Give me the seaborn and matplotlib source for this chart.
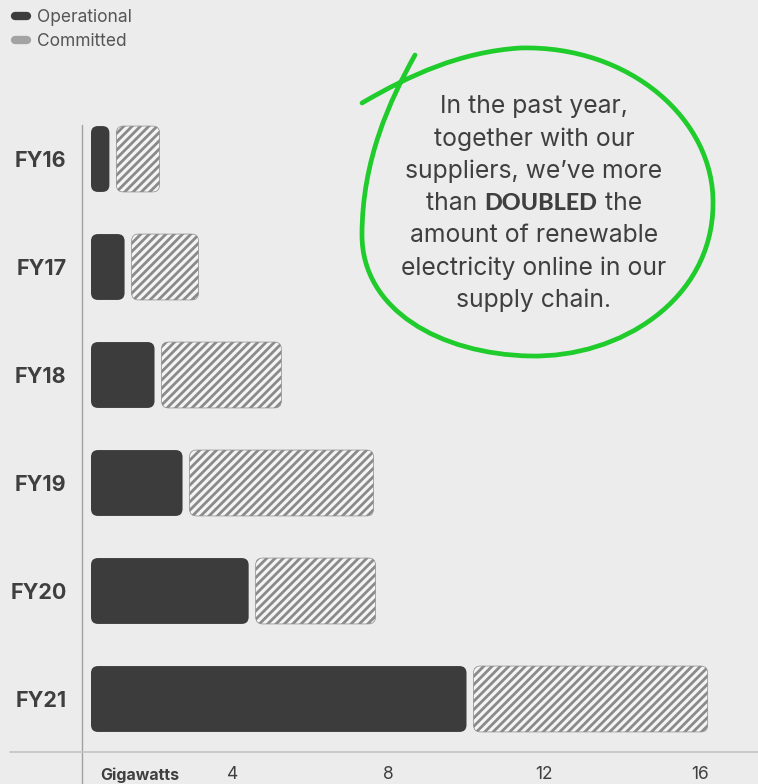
import numpy as np
import pandas as pd
import seaborn as sns
import matplotlib.pyplot as plt
from matplotlib.patches import FancyBboxPatch
from matplotlib.lines import Line2D
from matplotlib.path import Path
from matplotlib.patches import PathPatch

# data (gigawatts)
years = ["FY16", "FY17", "FY18", "FY19", "FY20", "FY21"]
operational = [0.82, 1.21, 1.98, 2.70, 4.40, 10.0]
total_committed = [2.11, 3.11, 5.24, 7.61, 7.66, 16.2]
xticks = [4, 8, 12, 16]

BG = "#ececec"
DARK = "#3c3c3c"
HATCH_GRAY = "#8a8a8a"
GREEN = "#1fcc2c"
TXT = "#3f3f3f"

sns.set_theme(style="white", rc={"figure.facecolor": BG, "axes.facecolor": BG,
                                 "hatch.linewidth": 2.0})
plt.rcParams["font.family"] = ["Inter", "DejaVu Sans"]

W, H = 758, 784
fig = plt.figure(figsize=(W / 100, H / 100), dpi=100)
# axes: left edge is the vertical rule, bottom the horizontal rule
ax = fig.add_axes([82 / W, 1 - 752 / H, 1 - 82 / W, (752 - 125) / H])

df = pd.DataFrame({"year": years, "op": operational, "tot": total_committed})
sns.barplot(data=df, x="op", y="year", orient="h", color=DARK, width=0.61,
            ax=ax, saturation=1)
sns.barplot(data=df, x="tot", y="year", orient="h", color=HATCH_GRAY, width=0.61,
            ax=ax, saturation=1)

px_gw = 38.9
zero_px = 77.5
ax.set_xlim((82 - zero_px) / px_gw, (W - zero_px) / px_gw)
ax.set_ylim(5.0 + (752 - 699) / 108, -(159 - 125) / 108)

# swap the square seaborn bars for rounded ones
fig.canvas.draw()
p0 = ax.transData.transform((0, 0))
p1 = ax.transData.transform((1, 1))
sx, sy = abs(p1[0] - p0[0]), abs(p1[1] - p0[1])
r_px = 7
rx, ry = r_px / sx, r_px / sy
bar_start = (91 - zero_px) / px_gw
gap = 7 / sx

bars = list(ax.patches)
n = len(years)
for i, p in enumerate(bars):
    y, h = p.get_y(), p.get_height()
    p.remove()
    k = i % n
    if i < n:
        x0, x1 = bar_start, operational[k]
        style = dict(facecolor=DARK, edgecolor=DARK, linewidth=0)
    else:
        x0, x1 = operational[k] + gap, total_committed[k]
        style = dict(facecolor="#f4f4f4", edgecolor=HATCH_GRAY, linewidth=0.5,
                     hatch="////")
    r = min(rx, (x1 - x0) / 2)
    fb = FancyBboxPatch((x0, y), x1 - x0, h,
                        boxstyle=f"round,pad=0,rounding_size={r}",
                        mutation_aspect=ry / r, **style)
    ax.add_patch(fb)

sns.despine(ax=ax, left=True, bottom=True)
ax.plot([0, 0], [-(784 - 752) / (752 - 125), 1], transform=ax.transAxes,
        color="#a0a0a0", lw=1, clip_on=False)
ax.plot([-(82 - 10) / (W - 82), 1], [0, 0], transform=ax.transAxes,
        color="#c4c4c4", lw=1.2, clip_on=False)

ax.set_xticks(xticks)
ax.set_xticklabels([str(t) for t in xticks], fontsize=12.5, color=TXT)
ax.tick_params(axis="x", length=0, pad=10)
ax.tick_params(axis="y", length=0, pad=11)
for lab in ax.get_yticklabels():
    lab.set_fontsize(15.5)
    lab.set_fontweight("bold")
    lab.set_color(TXT)
ax.set_xlabel("")
ax.set_ylabel("")
ax.text((100 - zero_px) / px_gw, -(775 - 752) / (752 - 125), "Gigawatts",
        transform=ax.get_xaxis_transform(), ha="left", va="center",
        fontsize=11.5, fontweight="bold", color=TXT)

# legend
handles = [Line2D([0], [0], color=DARK, lw=6, solid_capstyle="round"),
           Line2D([0], [0], color="#a3a3a3", lw=6, solid_capstyle="round")]
fig.legend(handles, ["Operational", "Committed"], loc="upper left",
           bbox_to_anchor=(15 / W, 1 - 9 / H), frameon=False, fontsize=12.5,
           handlelength=0.7, handletextpad=0.55, labelspacing=0.4,
           borderaxespad=0, borderpad=0, labelcolor="#555555")

# callout text
lines = ["In the past year,", "together with our", "suppliers, we\u2019ve more",
         None, "amount of renewable", "electricity online in our", "supply chain."]
cx = 534 / W
fs = 17.8
for i, line in enumerate(lines):
    yy = 1 - (107 + 32.2 * i) / H
    if line is not None:
        fig.text(cx, yy, line, ha="center", va="center", fontsize=fs, color=TXT)
renderer = fig.canvas.get_renderer()
yy = 1 - (107 + 32.2 * 3) / H
parts = [("than ", dict(fontsize=fs)),
         ("DOUBLED", dict(fontsize=fs - 1, fontweight="black", family=["Lato", "DejaVu Sans"])),
         (" the", dict(fontsize=fs))]
objs = [fig.text(0, yy, s, ha="left", va="center", color=TXT, **kw) for s, kw in parts]
widths = [o.get_window_extent(renderer).width for o in objs]
x = cx * W - sum(widths) / 2
for o, w in zip(objs, widths):
    o.set_x(x / W)
    x += w

# hand-drawn circle
pts = [(362, 103), (410, 75), (460, 52), (520, 48),
       (630, 45), (715, 120), (713, 205),
       (712, 300), (620, 358), (530, 356),
       (440, 354), (362, 310), (362, 235),
       (362, 160), (390, 100), (415, 55)]
verts = [(px / W, 1 - py / H) for px, py in pts]
codes = [Path.MOVETO] + [Path.CURVE4] * (len(verts) - 1)
fig.add_artist(PathPatch(Path(verts, codes), transform=fig.transFigure,
                         facecolor="none", edgecolor=GREEN, lw=3.4,
                         capstyle="round"))

fig.savefig("out.png", dpi=100, facecolor=BG)
